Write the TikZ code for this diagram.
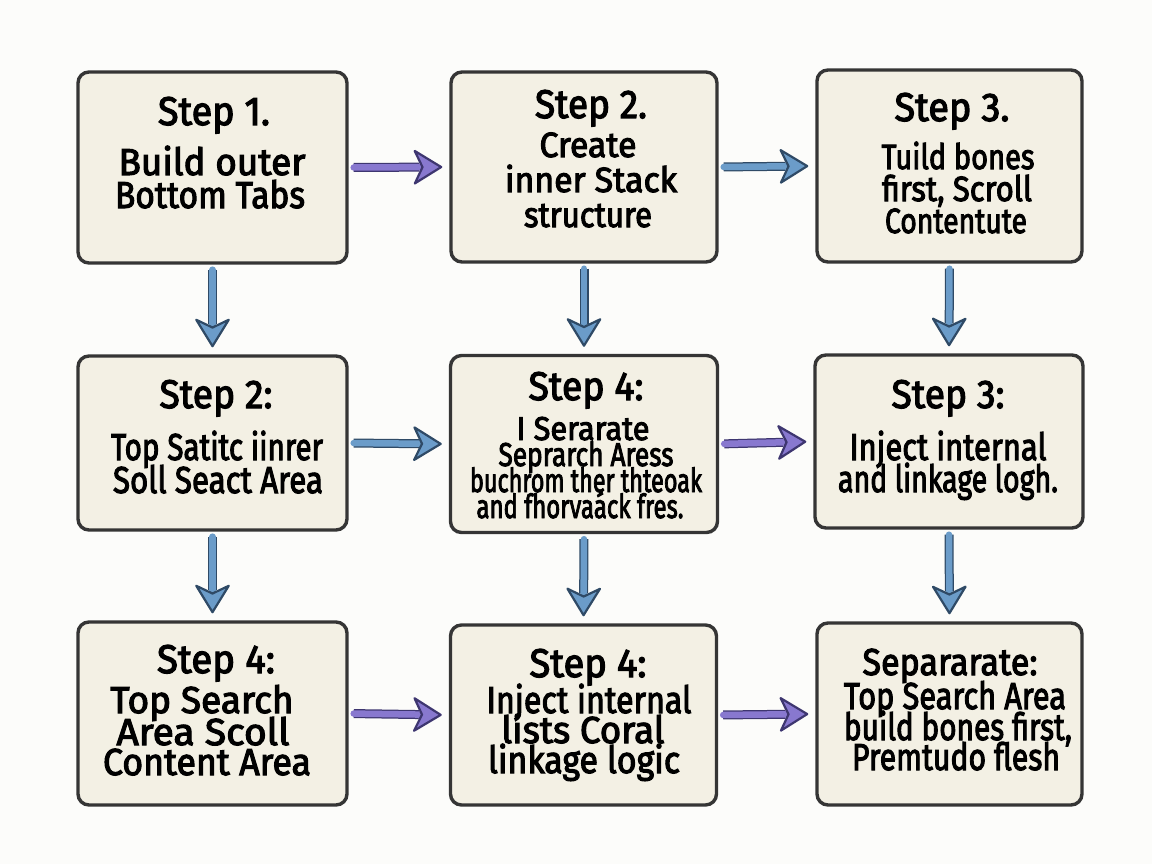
\documentclass[tikz,border=0pt]{standalone}
\usepackage{fontspec}
\usepackage{graphicx}
\setmainfont{Fira Sans}[FakeBold=3]
\usetikzlibrary{arrows.meta}
\definecolor{bgc}{HTML}{FCFCFA}
\definecolor{boxfill}{HTML}{F3F0E4}
\definecolor{boxline}{HTML}{353535}
\definecolor{bluefill}{HTML}{6B9CC9}
\definecolor{blueline}{HTML}{2F4A66}
\definecolor{purpfill}{HTML}{8878CF}
\definecolor{purpline}{HTML}{3E3670}
\newcommand{\fitw}[2]{\smash{\resizebox{#1pt}{\height}{#2}}}
\tikzset{
  stepbox/.style={draw=boxline, fill=boxfill, line width=3.4pt, rounded corners=11pt, inner sep=0pt},
  tl/.style={anchor=base, inner sep=0pt, font=\fontsize{40}{40}\selectfont},
  bl/.style={anchor=base, inner sep=0pt, font=\fontsize{37.5}{36}\selectfont},
  ml/.style={anchor=base, inner sep=0pt, font=\fontsize{35}{34}\selectfont},
  nl/.style={anchor=base, inner sep=0pt, font=\fontsize{33}{32}\selectfont},
  arrbase/.style={line cap=round, shorten <=5pt, shorten >=7pt},
  bluearr/.style={arrbase, draw=bluefill, line width=6.5pt,
    -{Stealth[length=31pt,width=38pt,inset=9pt,fill=bluefill,color=blueline,line width=2.2pt,round]},
    preaction={draw=blueline, line width=9pt, arrows=-, shorten >=30pt}},
  purparr/.style={arrbase, draw=purpfill, line width=6.5pt,
    -{Stealth[length=31pt,width=38pt,inset=9pt,fill=purpfill,color=purpline,line width=2.2pt,round]},
    preaction={draw=purpline, line width=9pt, arrows=-, shorten >=30pt}},
}
\begin{document}
\begin{tikzpicture}[x=1pt,y=-1pt]
\fill[bgc] (0,0) rectangle (1152,864);
\useasboundingbox (0,0) rectangle (1152,864);
% boxes
\node[stepbox, minimum width=269pt, minimum height=191pt] (b1) at (212.5,167.5) {};
\node[stepbox, minimum width=266pt, minimum height=190pt] (b2) at (584,167) {};
\node[stepbox, minimum width=265pt, minimum height=192pt] (b3) at (949.5,166) {};
\node[stepbox, minimum width=269pt, minimum height=174pt] (b4) at (212.5,443) {};
\node[stepbox, minimum width=267pt, minimum height=177pt] (b5) at (584,444) {};
\node[stepbox, minimum width=268pt, minimum height=173pt] (b6) at (949,441.5) {};
\node[stepbox, minimum width=269pt, minimum height=183pt] (b7) at (212.5,713.5) {};
\node[stepbox, minimum width=266pt, minimum height=180pt] (b8) at (583.5,715) {};
\node[stepbox, minimum width=265pt, minimum height=182pt] (b9) at (949.5,714) {};
% texts box 1
\node[tl] (b1t) at (214,125) {\fitw{112}{Step 1.}};
\node[bl] (b1a) at (212,175) {\fitw{187}{Build outer}};
\node[bl] (b1b) at (210,208) {\fitw{190}{Bottom Tabs}};
% box 2
\node[tl] (b2t) at (591,118) {\fitw{112}{Step 2.}};
\node[ml] (b2a) at (588,157) {\fitw{97}{Create}};
\node[ml] (b2b) at (591,192) {\fitw{172}{inner Stack}};
\node[ml] (b2c) at (588,227) {\fitw{128}{structure}};
% box 3
\node[tl] (b3t) at (952,121) {\fitw{115}{Step 3.}};
\node[ml] (b3a) at (958,169) {\fitw{153}{Tuild bones}};
\node[ml] (b3b) at (957,201) {\fitw{150}{first, Scroll}};
\node[ml] (b3c) at (956,233) {\fitw{142}{Contentute}};
% box 4
\node[tl] (b4t) at (216,408) {\fitw{113}{Step 2:}};
\node[bl] (b4a) at (217,460) {\fitw{212}{Top Satitc iinrer}};
\node[bl] (b4b) at (218,493) {\fitw{210}{Soll Seact Area}};
% box 5
\node[tl] (b5t) at (586,400) {\fitw{115}{Step 4:}};
\node[nl] (b5a) at (583,440) {\fitw{133}{I Serarate}};
\node[nl] (b5b) at (586,466) {\fitw{175}{Seprarch Aress}};
\node[nl] (b5c) at (586,492) {\fitw{232}{buchrom ther thteoak}};
\node[nl] (b5d) at (580,518) {\fitw{207}{and fhorvaáck fres.}};
% box 6
\node[tl] (b6t) at (948,408) {\fitw{113}{Step 3:}};
\node[bl] (b6a) at (948,460) {\fitw{197}{Inject internal}};
\node[bl] (b6b) at (948,492) {\fitw{220}{and linkage logh.}};
% box 7
\node[tl] (b7t) at (216,673) {\fitw{118}{Step 4:}};
\node[bl] (b7a) at (202,713) {\fitw{183}{Top Search}};
\node[bl] (b7b) at (203,745) {\fitw{173}{Area Scoll}};
\node[bl] (b7c) at (207,775) {\fitw{208}{Content Area}};
% box 8
\node[tl] (b8t) at (588,677) {\fitw{117}{Step 4:}};
\node[bl] (b8a) at (589,713) {\fitw{205}{Inject internal}};
\node[bl] (b8b) at (583,743) {\fitw{163}{lists Coral}};
\node[bl] (b8c) at (584,773) {\fitw{192}{linkage logic}};
% box 9
\node[bl] (b9t) at (950,675) {\fitw{175}{Separarate:}};
\node[bl] (b9a) at (955,709) {\fitw{222}{Top Search Area}};
\node[bl] (b9b) at (958,740) {\fitw{228}{build bones first,}};
\node[bl] (b9c) at (956,770) {\fitw{208}{Premtudo flesh}};
% horizontal connectors
\draw[purparr] (b1.east) -- (b2.west);
\draw[bluearr] (b2.east) -- (b3.west);
\draw[bluearr] (b4.east) -- (b5.west);
\draw[purparr] (b5.east) -- (b6.west);
\draw[purparr] (b7.east) -- (b8.west);
\draw[purparr] (b8.east) -- (b9.west);
% vertical connectors
\draw[bluearr] (b1.south) -- (b4.north);
\draw[bluearr] (b2.south) -- (b5.north);
\draw[bluearr] (b3.south) -- (b6.north);
\draw[bluearr] (b4.south) -- (b7.north);
\draw[bluearr] (b5.south) -- (b8.north);
\draw[bluearr] (b6.south) -- (b9.north);
\end{tikzpicture}
\end{document}
